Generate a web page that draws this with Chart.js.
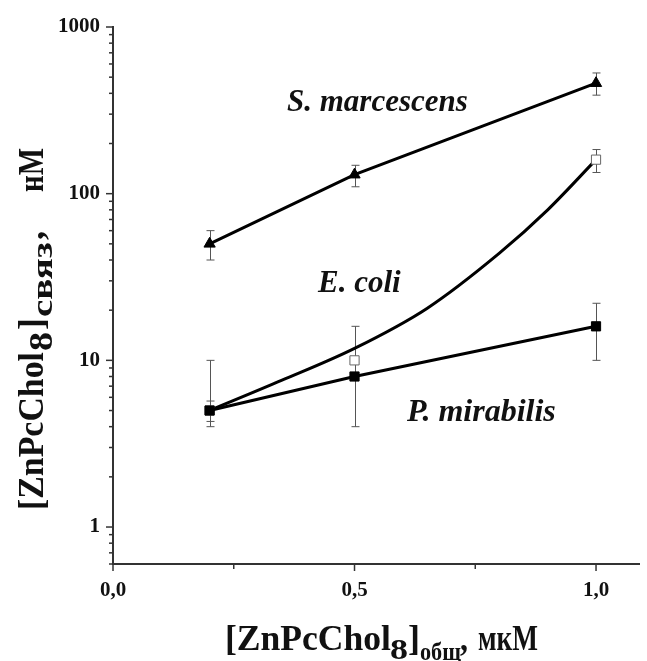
<!DOCTYPE html>
<html>
<head>
<meta charset="utf-8">
<script src="https://cdn.jsdelivr.net/npm/chart.js@4"></script>
<style>
  html, body { margin: 0; padding: 0; background: #fff; overflow: hidden; }
  #chart { display: block; }
</style>
</head>
<body>
<canvas id="chart" width="647" height="661"></canvas>
<script>
// measured concentrations, uM
const xValues = [0.2, 0.5, 1.0];

// S. marcescens
const serratiaValues = [50, 130, 460];
const serratiaLow = [40, 110, 390];
const serratiaHigh = [60, 148, 530];

// E. coli (points + fitted curve)
const coliValues = [5, 10, 160];
const coliLow = [4.3, 10, 134];
const coliHigh = [5.7, 10, 184];
const coliFitX = [0.2, 0.35, 0.5, 0.65, 0.8, 0.9, 1.0];
const coliFitY = [5, 7.6, 11.8, 20.5, 44, 80, 160];

// P. mirabilis
const mirabilisValues = [5, 8, 16];
const mirabilisLow = [4, 4, 10];
const mirabilisHigh = [10, 16, 22];

// axes
const xTickValues = [0, 0.5, 1.0];
const xTickLabels = ['0,0', '0,5', '1,0'];
const xMinorTicks = [0.25, 0.75];
const yTickValues = [1, 10, 100, 1000];
const yTickLabels = ['1', '10', '100', '1000'];

const FONT = '"Liberation Serif", "Times New Roman", serif';

function pts(xs, ys) {
  return xs.map((x, i) => ({ x: x, y: ys[i] }));
}

function yMinorTicks() {
  const out = [];
  for (let d = 0.1; d < 1000; d *= 10) {
    for (let k = 2; k <= 9; k++) {
      const v = +(k * d).toPrecision(3);
      if (v >= 0.6 && v < 1000 && yTickValues.indexOf(v) < 0) out.push(v);
    }
  }
  return out;
}

// error bars, drawn under the markers
const errorBars = {
  id: 'errorBars',
  beforeDatasetsDraw(chart) {
    const ctx = chart.ctx;
    const xs = chart.scales.x, ys = chart.scales.y;
    ctx.save();
    ctx.strokeStyle = '#555';
    ctx.lineWidth = 1;
    chart.data.datasets.forEach(ds => {
      if (!ds.errLow) return;
      ds.data.forEach((p, i) => {
        const px = Math.round(xs.getPixelForValue(p.x)) + 0.5;
        const top = ys.getPixelForValue(ds.errHigh[i]);
        const bot = ys.getPixelForValue(ds.errLow[i]);
        if (Math.abs(bot - top) < 1) return;
        ctx.beginPath();
        ctx.moveTo(px, top); ctx.lineTo(px, bot);
        ctx.moveTo(px - 4, top); ctx.lineTo(px + 4, top);
        ctx.moveTo(px - 4, bot); ctx.lineTo(px + 4, bot);
        ctx.stroke();
      });
    });
    ctx.restore();
  }
};

// tick marks, species names and axis titles with subscripts
const decorations = {
  id: 'decorations',
  afterDraw(chart) {
    const ctx = chart.ctx;
    const xs = chart.scales.x, ys = chart.scales.y;
    const area = chart.chartArea;
    ctx.save();
    ctx.strokeStyle = '#333';
    ctx.lineWidth = 1.5;

    xTickValues.concat(xMinorTicks).forEach(v => {
      const major = xTickValues.indexOf(v) >= 0;
      const px = xs.getPixelForValue(v);
      ctx.beginPath();
      ctx.moveTo(px, area.bottom);
      ctx.lineTo(px, area.bottom + (major ? 7 : 5));
      ctx.stroke();
    });
    yTickValues.concat(yMinorTicks()).forEach(v => {
      const major = yTickValues.indexOf(v) >= 0;
      const py = ys.getPixelForValue(v);
      ctx.beginPath();
      ctx.moveTo(area.left, py);
      ctx.lineTo(area.left - (major ? 7 : 4), py);
      ctx.stroke();
    });

    ctx.fillStyle = '#111';
    ctx.textBaseline = 'alphabetic';
    ctx.textAlign = 'left';

    // species labels
    ctx.font = 'italic bold 31px ' + FONT;
    ctx.fillText('S. marcescens', 287, 111);
    ctx.fillText('E. coli', 318, 292);
    ctx.font = 'italic bold 32px ' + FONT;
    ctx.fillText('P. mirabilis', 407, 421);

    // axis titles: [text, size, start, baseline shift, width]
    function title(parts, x, y, rot) {
      ctx.save();
      ctx.translate(x, y);
      ctx.rotate(rot);
      parts.forEach(p => {
        ctx.font = 'bold ' + p[1] + 'px ' + FONT;
        const w = ctx.measureText(p[0]).width;
        const k = Math.max(0.75, Math.min(1.3, p[4] / w));
        ctx.save();
        ctx.translate(p[2], p[3]);
        ctx.scale(k, 1);
        ctx.fillText(p[0], 0, 0);
        ctx.restore();
      });
      ctx.restore();
    }
    title([
      ['[ZnPcChol', 35, 0, 0, 166],
      ['8', 29, 165, 9, 18],
      [']', 35, 183, 0, 12],
      ['общ', 25, 195, 10, 41],
      [',', 35, 235, 0, 8],
      ['мкМ', 35, 253, 0, 60]
    ], 225, 650, 0);
    title([
      ['[ZnPcChol', 35, 0, 0, 158],
      ['8', 33, 159, 9, 19],
      [']', 35, 180, 0, 12],
      ['связ', 30, 193, 9, 75],
      [',', 35, 270, 0, 9],
      ['нМ', 35, 318, 0, 44]
    ], 43, 510, -Math.PI / 2);

    ctx.restore();
  }
};

new Chart(document.getElementById('chart'), {
  type: 'scatter',
  data: {
    datasets: [
      {
        label: 'P. mirabilis',
        data: pts(xValues, mirabilisValues),
        errLow: mirabilisLow, errHigh: mirabilisHigh,
        showLine: true,
        borderColor: '#000', borderWidth: 3,
        pointStyle: 'rect', pointRadius: 6.5,
        pointBackgroundColor: '#000', pointBorderColor: '#000', pointBorderWidth: 1,
        order: 1
      },
      {
        label: 'E. coli',
        data: pts(xValues, coliValues),
        errLow: coliLow, errHigh: coliHigh,
        showLine: false,
        pointStyle: 'rect', pointRadius: 6.5,
        pointBackgroundColor: '#fff', pointBorderColor: '#666', pointBorderWidth: 1,
        order: 2
      },
      {
        label: 'S. marcescens',
        data: pts(xValues, serratiaValues),
        errLow: serratiaLow, errHigh: serratiaHigh,
        showLine: true,
        borderColor: '#000', borderWidth: 3,
        pointStyle: 'triangle', pointRadius: 6.5,
        pointBackgroundColor: '#000', pointBorderColor: '#000', pointBorderWidth: 1,
        order: 3
      },
      {
        label: 'E. coli fit',
        data: pts(coliFitX, coliFitY),
        showLine: true,
        borderColor: '#000', borderWidth: 3,
        cubicInterpolationMode: 'monotone',
        pointRadius: 0,
        order: 4
      }
    ]
  },
  options: {
    responsive: false,
    devicePixelRatio: 1,
    animation: false,
    layout: { padding: { top: 27, right: 2, left: 0, bottom: 0 } },
    plugins: {
      legend: { display: false },
      tooltip: { enabled: false }
    },
    scales: {
      x: {
        type: 'linear',
        min: 0, max: 1.09,
        afterBuildTicks: s => { s.ticks = xTickValues.map(v => ({ value: v })); },
        afterFit: s => { s.height = 97; s.paddingLeft = 0; s.paddingRight = 0; },
        ticks: {
          color: '#111',
          padding: 14,
          font: { family: FONT, size: 21, weight: 'bold' },
          callback: v => xTickLabels[xTickValues.indexOf(v)]
        },
        grid: { display: false, drawTicks: false },
        border: { display: true, color: '#333', width: 2 }
      },
      y: {
        type: 'logarithmic',
        min: 0.6, max: 1000,
        afterBuildTicks: s => { s.ticks = yTickValues.map(v => ({ value: v })); },
        afterFit: s => { s.width = 113; },
        ticks: {
          color: '#111',
          padding: 13,
          font: { family: FONT, size: 21, weight: 'bold' },
          callback: v => yTickLabels[yTickValues.indexOf(v)]
        },
        grid: { display: false, drawTicks: false },
        border: { display: true, color: '#333', width: 2 }
      }
    }
  },
  plugins: [errorBars, decorations]
});
</script>
</body>
</html>
